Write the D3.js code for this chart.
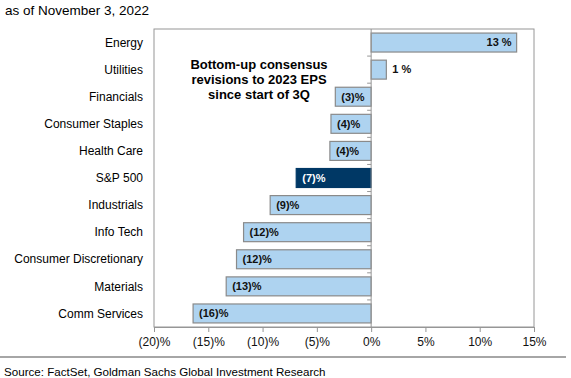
<!DOCTYPE html>
<meta charset="utf-8">
<style>
  body { margin: 0; background: #fff; }
  svg { display: block; font-family: "Liberation Sans", Arial, sans-serif; }
</style>
<svg width="571" height="378"></svg>

<script src="https://d3js.org/d3.v7.min.js"></script>
<script>

// data
var sectors = ["Energy", "Utilities", "Financials", "Consumer Staples", "Health Care",
  "S&P 500", "Industrials", "Info Tech", "Consumer Discretionary", "Materials", "Comm Services"]
var revisions = [13.4, 1.4, -3.3, -3.7, -3.8, -6.9, -9.3, -11.75, -12.4, -13.35, -16.4]
var xTicks = [-20, -15, -10, -5, 0, 5, 10, 15]

var rows = sectors.map(function(s, i) { return { name: s, value: revisions[i] } })

var svg = d3.select("svg")

// plot frame (note: "top" is taken by window.top, so use plot* names)
var plotLeft = 154, plotRight = 534, plotTop = 29, plotBottom = 327

var x = d3.scaleLinear().domain([-20, 15]).range([plotLeft, plotRight])
var y = d3.scaleBand().domain(sectors).range([plotTop, plotBottom])
    .paddingInner(0.3).paddingOuter(0.15)

function pct(v) {
  var r = Math.round(Math.abs(v))
  return v < 0 ? "(" + r + ")%" : r + " %"
}

svg.append("text")
    .attr("x", 5).attr("y", 15)
    .style("font-size", "13.5px")
    .text("as of November 3, 2022")

svg.append("rect")
    .attr("x", plotLeft).attr("y", plotTop)
    .attr("width", plotRight - plotLeft).attr("height", plotBottom - plotTop)
    .attr("fill", "none").attr("stroke", "#969696")

// bars
svg.append("g").selectAll("rect")
  .data(rows)
  .enter().append("rect")
    .attr("x", function(d) { return x(Math.min(0, d.value)) })
    .attr("y", function(d) { return y(d.name) })
    .attr("width", function(d) { return Math.abs(x(d.value) - x(0)) })
    .attr("height", y.bandwidth())
    .attr("fill", function(d) { return d.name === "S&P 500" ? "#003865" : "#aed3f0" })
    .attr("stroke", function(d) { return d.name === "S&P 500" ? "#003865" : "#8a8a8a" })
    .attr("stroke-width", 1.2)

// zero line + category ticks
svg.append("line")
    .attr("x1", x(0)).attr("x2", x(0))
    .attr("y1", plotTop).attr("y2", plotBottom)
    .attr("stroke", "#969696")

svg.append("g").selectAll("line")
  .data(sectors.slice(1))
  .enter().append("line")
    .attr("x1", x(0) - 4).attr("x2", x(0))
    .attr("y1", function(d) { return y(d) - y.step() * y.paddingInner() / 2 })
    .attr("y2", function(d) { return y(d) - y.step() * y.paddingInner() / 2 })
    .attr("stroke", "#969696")

// category labels
svg.append("g").selectAll("text")
  .data(rows)
  .enter().append("text")
    .attr("x", 143)
    .attr("y", function(d) { return y(d.name) + y.bandwidth() / 2 })
    .attr("dy", "0.35em")
    .attr("text-anchor", "end")
    .style("font-size", "12px")
    .text(function(d) { return d.name })

// value labels
svg.append("g").selectAll("text")
  .data(rows)
  .enter().append("text")
    .attr("x", function(d) {
      if (d.value < 0) return x(d.value) + 6
      if (d.value > 5) return x(d.value) - 5
      return x(d.value) + 6
    })
    .attr("y", function(d) { return y(d.name) + y.bandwidth() / 2 })
    .attr("dy", "0.35em")
    .attr("text-anchor", function(d) { return d.value > 5 ? "end" : "start" })
    .attr("fill", function(d) { return d.name === "S&P 500" ? "#fff" : "#111" })
    .style("font-size", "11px")
    .style("font-weight", "bold")
    .text(function(d) { return pct(d.value) })

// bottom axis
var xAxis = d3.axisBottom(x)
    .tickValues(xTicks)
    .tickSize(5)
    .tickFormat(function(d) { return d < 0 ? "(" + (-d) + ")%" : d + "%" })

var ax = svg.append("g")
    .attr("transform", "translate(0," + plotBottom + ")")
    .call(xAxis)
ax.select(".domain").attr("stroke", "#969696")
ax.selectAll(".tick line").attr("stroke", "#969696")
ax.selectAll(".tick text")
    .attr("y", 10)
    .attr("fill", "#111")
    .style("font-size", "12px")
    .style("font-family", "\"Liberation Sans\", Arial, sans-serif")

// annotation
var note = ["Bottom-up consensus", "revisions to 2023 EPS", "since start of 3Q"]
svg.append("g").selectAll("text")
  .data(note)
  .enter().append("text")
    .attr("x", 259)
    .attr("y", function(d, i) { return 69 + i * 15 })
    .attr("text-anchor", "middle")
    .style("font-size", "13px")
    .style("font-weight", "bold")
    .text(function(d) { return d })

// footer
svg.append("line")
    .attr("x1", 0).attr("x2", 566)
    .attr("y1", 357).attr("y2", 357)
    .attr("stroke", "#a6a6a6").attr("stroke-width", 2)

svg.append("text")
    .attr("x", 4).attr("y", 376)
    .style("font-size", "11.6px")
    .text("Source: FactSet, Goldman Sachs Global Investment Research")

</script>
